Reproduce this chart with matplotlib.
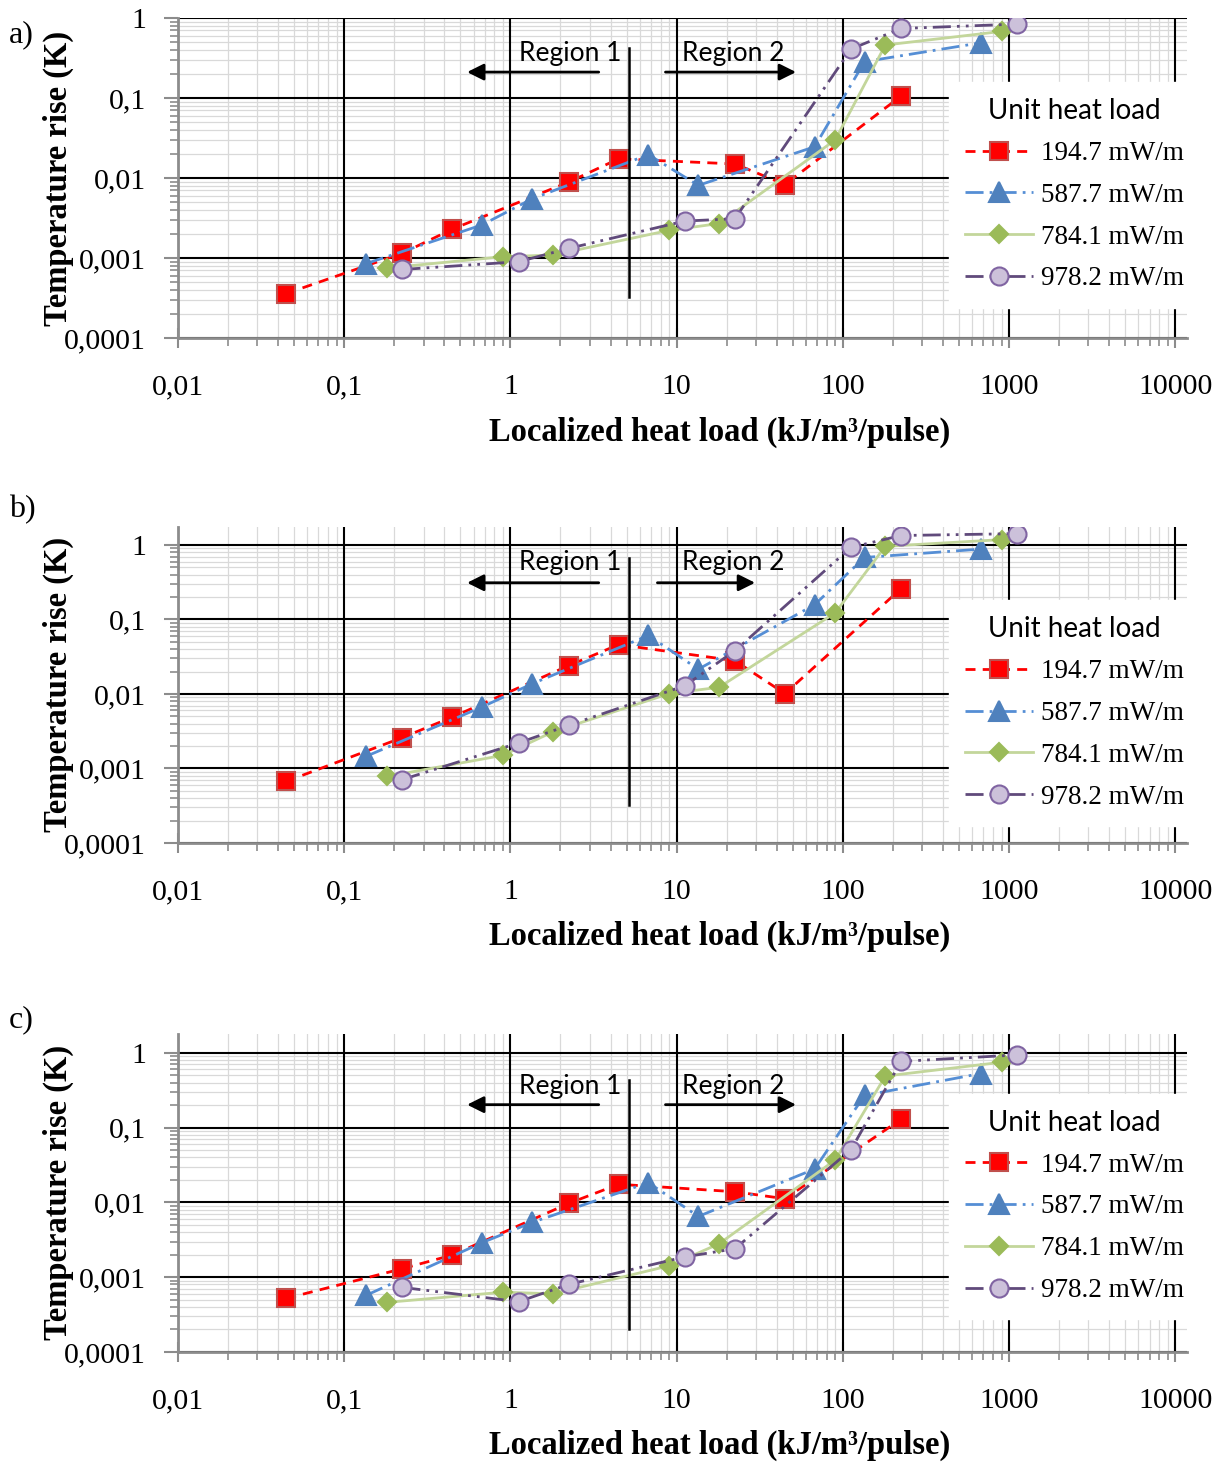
import numpy as np
import matplotlib
matplotlib.use('Agg')
import matplotlib.pyplot as plt
from matplotlib.ticker import FixedLocator, FixedFormatter, LogLocator, NullFormatter

plt.rcParams['font.family'] = ['Liberation Serif', 'DejaVu Serif']

# localized heat load (kJ/m3/pulse) for each unit heat load
x_194 = [0.0448, 0.224, 0.448, 2.24, 4.48, 22.4, 44.8, 224]
x_587 = [0.135, 0.676, 1.35, 6.76, 13.5, 67.6, 135, 676]
x_784 = [0.18, 0.9, 1.8, 9.0, 18.0, 90.0, 180, 900]
x_978 = [0.224, 1.12, 2.24, 11.2, 22.4, 112, 224, 1120]

# temperature rise (K), panel a)
a_194 = [0.00036, 0.00115, 0.0023, 0.0089, 0.0174, 0.015, 0.0083, 0.106]
a_587 = [0.00085, 0.0026, 0.0055, 0.0196, 0.0081, 0.0246, 0.285, 0.49]
a_784 = [0.00075, 0.00104, 0.00109, 0.00222, 0.0027, 0.03, 0.46, 0.68]
a_978 = [0.00072, 0.0009, 0.00132, 0.0029, 0.0031, 0.41, 0.74, 0.84]

# panel b)
b_194 = [0.00067, 0.0026, 0.0049, 0.024, 0.046, 0.028, 0.0101, 0.26]
b_587 = [0.00145, 0.0067, 0.0137, 0.061, 0.0215, 0.158, 0.68, 0.88]
b_784 = [0.00078, 0.0015, 0.0031, 0.0101, 0.0123, 0.123, 0.96, 1.18]
b_978 = [0.00071, 0.0022, 0.0038, 0.0129, 0.038, 0.93, 1.34, 1.42]

# panel c)
c_194 = [0.00052, 0.0013, 0.00198, 0.0097, 0.0175, 0.0139, 0.0112, 0.13]
c_587 = [0.00057, 0.0029, 0.0054, 0.0184, 0.0065, 0.028, 0.27, 0.53]
c_784 = [0.00046, 0.00063, 0.0006, 0.00142, 0.0028, 0.037, 0.49, 0.75]
c_978 = [0.00073, 0.00047, 0.0008, 0.00187, 0.0024, 0.051, 0.77, 0.94]

labels = ['194.7 mW/m', '587.7 mW/m', '784.1 mW/m', '978.2 mW/m']
x_ticks = [0.01, 0.1, 1, 10, 100, 1000, 10000]
x_tick_labels = ['0,01', '0,1', '1', '10', '100', '1000', '10000']
y_ticks = [0.0001, 0.001, 0.01, 0.1, 1]
y_tick_labels = ['0,0001', '0,001', '0,01', '0,1', '1']

styles = [
    dict(color='#FF0000', ls=(0, (3.6, 2.6)), marker='s', ms=13, mfc='#FF0000', mec='#C0504D'),
    dict(color='#558ED5', ls=(0, (6.5, 2.2, 1, 2.2)), marker='^', ms=14, mfc='#4F81BD', mec='#4F81BD'),
    dict(color='#C3D69B', ls='-', marker='D', ms=9.5, mfc='#9BBB59', mec='#9BBB59'),
    dict(color='#604A7B', ls=(0, (6.5, 2.2, 1, 2.2, 1, 2.2)), marker='o', ms=13, mfc='#CCC1DA', mec='#8064A2'),
]


def draw_panel(ax, ys, ymax, leg_top, text_y, arrow_y, vline_y, right_end, right_start):
    xs = [x_194, x_587, x_784, x_978]
    for x, y, lab, st in zip(xs, ys, labels, styles):
        ax.plot(x, y, lw=2, mew=1.5, label=lab, zorder=3, **st)

    ax.set_xscale('log')
    ax.set_yscale('log')
    ax.set_xlim(0.01, 11800)
    ax.set_ylim(0.0001, ymax)

    ax.xaxis.set_major_locator(FixedLocator(x_ticks))
    ax.xaxis.set_major_formatter(FixedFormatter(x_tick_labels))
    ax.yaxis.set_major_locator(FixedLocator(y_ticks))
    ax.yaxis.set_major_formatter(FixedFormatter(y_tick_labels))
    for axis in (ax.xaxis, ax.yaxis):
        axis.set_minor_locator(LogLocator(base=10, subs=np.arange(2, 10)))
        axis.set_minor_formatter(NullFormatter())

    # light minor grid, black major grid drawn on top of it
    ax.grid(which='minor', color='#D9D9D9', lw=0.9)
    ax.set_axisbelow(True)
    for xt in x_ticks:
        ax.axvline(xt, color='black', lw=1.5, zorder=1)
    for yt in y_ticks:
        ax.axhline(yt, color='black', lw=1.5, zorder=1)

    for s in ('top', 'right'):
        ax.spines[s].set_visible(False)
    for s in ('left', 'bottom'):
        ax.spines[s].set_color('#8C8C8C')
        ax.spines[s].set_linewidth(2)

    ax.tick_params(axis='x', which='major', direction='inout', length=14, width=1.5,
                   color='#8C8C8C', labelsize=21.5, pad=19)
    ax.tick_params(axis='y', which='major', direction='out', length=10, width=1.5,
                   color='#8C8C8C', labelsize=21.5, pad=13)
    ax.tick_params(which='minor', direction='out', length=6, width=1.2, color='#8C8C8C')

    ax.text(-0.118, 0.5, 'Temperature rise (K)', transform=ax.transAxes, rotation=90,
            ha='center', va='center', fontsize=23.5, fontweight='bold')
    ax.text(0.537, -0.295, 'Localized heat load (kJ/m³/pulse)', transform=ax.transAxes,
            ha='center', va='center', fontsize=23.5, fontweight='bold')

    # region markers
    ax.plot([5.14, 5.14], vline_y, color='black', lw=1.8, zorder=4)
    ax.annotate('', xy=(0.528, arrow_y), xytext=(3.53, arrow_y),
                arrowprops=dict(arrowstyle='-|>', color='black', lw=2, mutation_scale=25))
    ax.annotate('', xy=(right_end, arrow_y), xytext=(right_start, arrow_y),
                arrowprops=dict(arrowstyle='-|>', color='black', lw=2, mutation_scale=25))
    ax.text(2.3, text_y, 'Region 1', ha='center', va='center', fontsize=19, family='Lato')
    ax.text(22.0, text_y, 'Region 2', ha='center', va='center', fontsize=19, family='Lato')

    leg = ax.legend(loc='upper right', bbox_to_anchor=(1.013, leg_top), fontsize=19.5,
                    title='Unit heat load', title_fontproperties={'family': 'Lato', 'size': 20},
                    frameon=True, fancybox=False, framealpha=1, edgecolor='white',
                    facecolor='white', handlelength=2.5, handletextpad=0.3,
                    labelspacing=0.62, borderpad=0.6, borderaxespad=0)
    leg.set_zorder(6)


fig = plt.figure(figsize=(12.19, 14.66), dpi=100)
ax_a = fig.add_axes([0.146, 0.7694, 0.828, 0.2183])
ax_b = fig.add_axes([0.146, 0.425, 0.828, 0.2156])
ax_c = fig.add_axes([0.146, 0.0778, 0.828, 0.217])

draw_panel(ax_a, [a_194, a_587, a_784, a_978], 1.0, 0.80, 0.365, 0.211, [0.42, 3.26e-4], 54.3, 8.24)
draw_panel(ax_b, [b_194, b_587, b_784, b_978], 1.75, 0.768, 0.575, 0.311, [0.671, 3.21e-4], 30.8, 7.37)
draw_panel(ax_c, [c_194, c_587, c_784, c_978], 1.8, 0.812, 0.352, 0.203, [0.437, 2.03e-4], 54.3, 8.24)

fig.text(0.007, 1 - 35 / 1466, 'a)', fontsize=23, va='center')
fig.text(0.007, 1 - 510 / 1466, 'b)', fontsize=23, va='center')
fig.text(0.007, 1 - 1020 / 1466, 'c)', fontsize=23, va='center')

fig.savefig('out.png', dpi=100)
